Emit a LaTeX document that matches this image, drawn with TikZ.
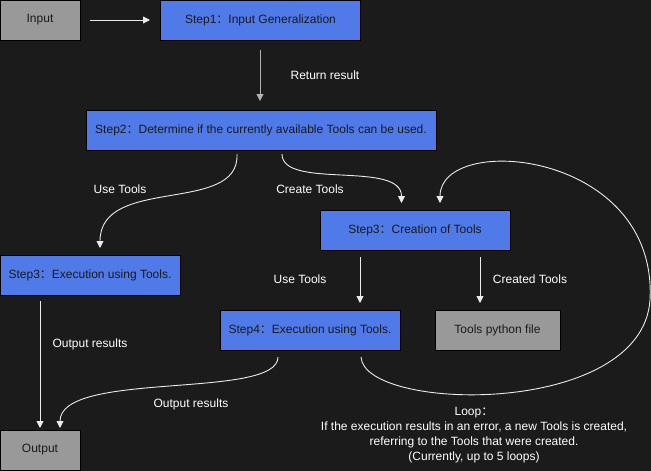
\documentclass[tikz,border=0pt]{standalone}
\usepackage{fontspec}
\setmainfont{Liberation Sans}
\newfontfamily\cjk{Noto Sans CJK SC}
\usetikzlibrary{arrows.meta}
\definecolor{bg}{HTML}{1B1B1B}
\definecolor{stepblue}{HTML}{507AE8}
\definecolor{boxgray}{HTML}{999999}
\definecolor{txt}{HTML}{1A1A1A}
\newcommand\fcolon{{\cjk ：}}
\begin{document}
\begin{tikzpicture}[x=1pt,y=-1pt, font=\fontsize{12}{15}\selectfont,
 box/.style={draw=black, line width=1pt, minimum height=40pt, inner sep=0pt, text=txt},
 stepbox/.style={box, fill=stepblue},
 graybox/.style={box, fill=boxgray},
 conn/.style={draw=white!92!black, line width=0.9pt, -{Triangle[width=7pt,length=7pt]}},
 lbl/.style={text=white, inner sep=0pt}]
\fill[bg] (0,0) rectangle (651,471);
\useasboundingbox (0,0) rectangle (651,471);

% nodes
\node[graybox, minimum width=80pt] (input) at (40,20) {Input};
\node[stepbox, minimum width=200pt] (step1) at (260.5,20) {Step1\fcolon Input Generalization};
\node[stepbox, minimum width=350pt] (step2) at (261,130.5) {Step2\fcolon Determine if the currently available Tools can be used.};
\node[stepbox, minimum width=180pt] (step3e) at (90,275.5) {Step3\fcolon Execution using Tools.};
\node[stepbox, minimum width=190pt] (step3c) at (415,230) {Step3\fcolon Creation of Tools};
\node[stepbox, minimum width=180pt] (step4) at (310,330) {Step4\fcolon Execution using Tools.};
\node[graybox, minimum width=125pt] (pyfile) at (497.5,330) {Tools python file};
\node[graybox, minimum width=80pt] (output) at (40,450) {Output};

% connector end points
\coordinate (inA) at (90,20);
\coordinate (s1A) at (150,20);
\coordinate (s1B) at (260,50);
\coordinate (s2In) at (260,101);
\coordinate (s2L) at (237,154);
\coordinate (s2R) at (282,154);
\coordinate (s3eIn) at (100,248);
\coordinate (s3cInL) at (401.5,203);
\coordinate (s3cInR) at (440,203);
\coordinate (s3cL) at (360,257);
\coordinate (s3cR) at (480,257);
\coordinate (s4In) at (360,303);
\coordinate (pyIn) at (480,303);
\coordinate (s3eOut) at (40,301);
\coordinate (outL) at (40,428);
\coordinate (outR) at (60,428);
\coordinate (s4L) at (278,357);
\coordinate (s4R) at (361,357);

% connectors
\draw[conn] (inA) -- (s1A);
\draw[conn, draw=white!70!black] (s1B) -- (s2In);
\draw[conn] (s2L) .. controls (240,215) and (100,175) .. (s3eIn);
\draw[conn] (s2R) .. controls (282,190) and (401.5,160) .. (s3cInL);
\draw[conn] (s3cL) -- (s4In);
\draw[conn] (s3cR) -- (pyIn);
\draw[conn] (s3eOut) -- (outL);
\draw[conn] (s4L) .. controls (278,400) and (60,370) .. (outR);
\draw[conn] (s4R) .. controls (364,412) and (642,418) .. (650,300)
  .. controls (658,150) and (440,132) .. (s3cInR);

% labels
\node[lbl] at (325,75) {Return result};
\node[lbl] at (120,189) {Use Tools};
\node[lbl] at (310,189) {Create Tools};
\node[lbl] at (300,279) {Use Tools};
\node[lbl] at (530,279) {Created Tools};
\node[lbl] at (90,344) {Output results};
\node[lbl] at (191,404) {Output results};
\node[lbl, align=center] at (474,435) {Loop\fcolon\\If the execution results in an error, a new Tools is created,\\referring to the Tools that were created.\\(Currently, up to 5 loops)};
\end{tikzpicture}
\end{document}
